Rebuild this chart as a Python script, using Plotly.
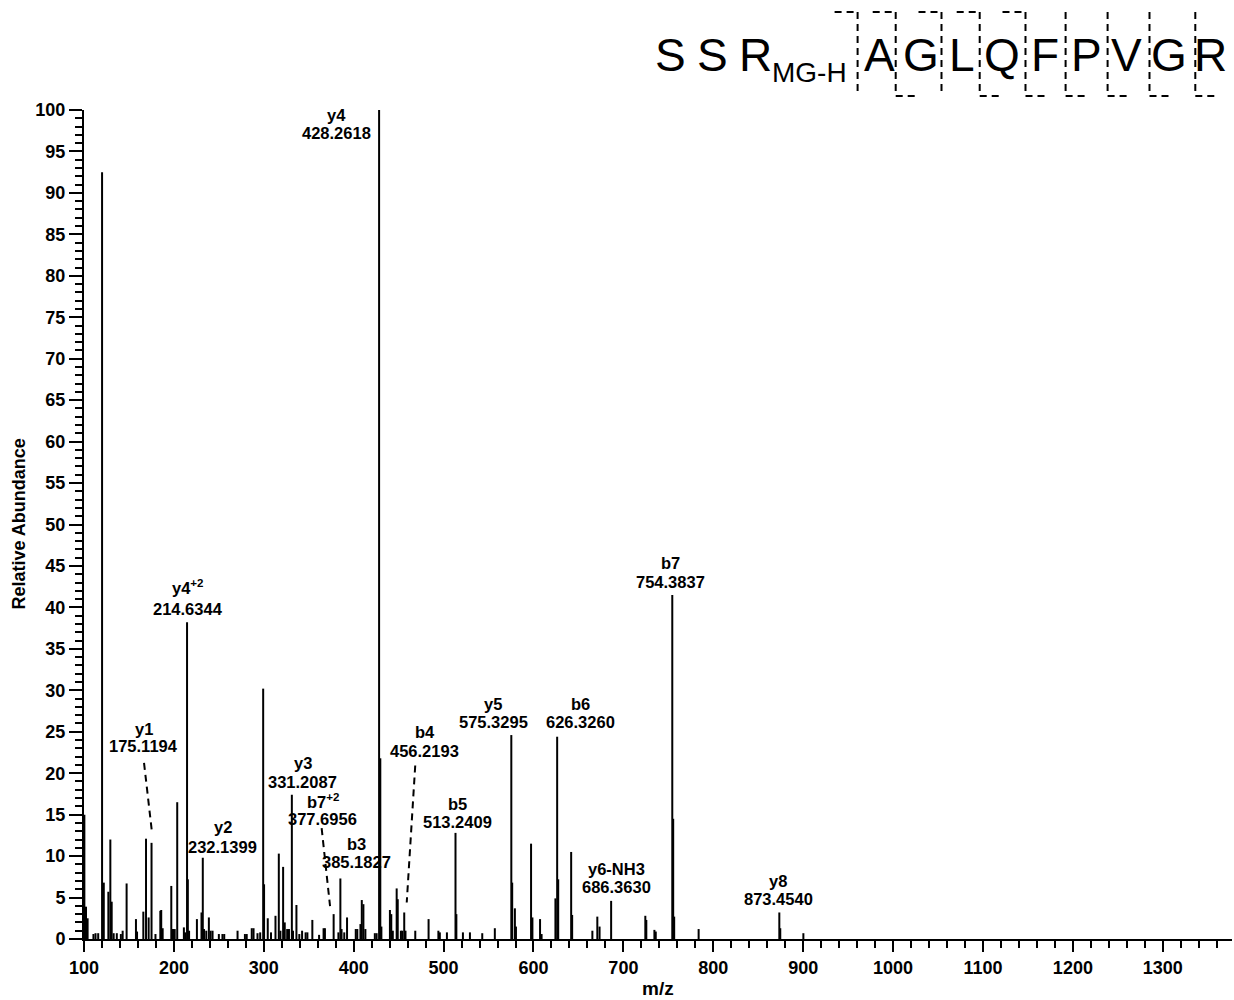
import plotly.graph_objects as go

# ---------------- data ----------------
mz = [100.4, 102.2, 104.0, 110.5, 112.8, 115.8, 120.1, 122.0, 127.1, 129.3, 130.8, 133.0, 136.5,
      141.0, 143.0, 147.4, 157.8, 159.0, 166.0, 169.0, 171.9, 175.1194, 179.5, 184.9, 185.9, 187.5,
      197.1, 199.0, 200.9, 203.7, 211.1, 212.5, 214.6344, 215.5, 216.9, 225.6, 230.7, 232.1399,
      233.5, 236.0, 238.9, 240.8, 243.0, 250.0, 254.0, 256.0, 270.8, 279.0, 281.0, 286.6, 288.6,
      293.0, 296.0, 299.3, 300.3, 304.4, 308.0, 313.0, 316.7, 318.5, 321.5, 323.3, 326.0, 328.0,
      331.2087, 332.5, 336.3, 339.5, 342.6, 346.5, 348.5, 354.0, 361.5, 366.5, 368.0, 377.6956,
      383.0, 385.1827, 386.5, 389.5, 392.6, 402.3, 404.0, 407.5, 409.0, 410.8, 413.0, 423.5, 425.5,
      428.2618, 429.6, 430.8, 440.3, 441.8, 443.5, 447.8, 449.0, 452.5, 454.0, 456.2193, 457.6,
      468.5, 483.3, 494.2, 495.8, 503.7, 513.2409, 514.2, 521.5, 529.3, 543.0, 557.0, 575.3295,
      576.3, 579.3, 580.5, 597.3, 598.8, 607.3, 609.0, 624.4, 626.3260, 627.5, 641.9, 643.0,
      665.5, 671.0, 673.5, 686.3630, 724.4, 725.5, 734.5, 736.0, 754.3837, 755.4, 756.5, 783.7,
      873.4540, 874.5, 900.2]
intensity = [15.0, 3.9, 2.5, 0.6, 0.7, 0.7, 92.5, 6.8, 5.7, 12.0, 4.5, 0.7, 0.7,
             0.6, 1.0, 6.7, 2.4, 0.9, 3.3, 12.1, 2.6, 11.6, 0.6, 3.4, 3.5, 1.3,
             6.4, 1.2, 1.2, 16.5, 1.4, 0.8, 38.2, 7.2, 1.0, 2.4, 3.2, 9.8,
             1.2, 1.0, 2.6, 1.0, 1.0, 0.6, 0.6, 0.6, 1.0, 0.6, 0.6, 1.3, 1.3,
             0.7, 0.8, 30.2, 6.6, 2.5, 0.8, 2.8, 10.3, 1.0, 8.7, 2.0, 1.2, 1.2,
             17.4, 1.0, 4.1, 0.6, 1.0, 0.8, 0.8, 2.3, 0.5, 1.3, 1.3, 3.0,
             0.8, 7.3, 1.2, 0.8, 2.6, 1.2, 1.2, 1.8, 4.7, 4.2, 1.2, 0.7, 0.7,
             100.0, 21.8, 1.5, 3.5, 3.0, 1.0, 6.1, 4.8, 1.0, 1.0, 3.2, 1.0,
             1.0, 2.4, 1.0, 0.8, 0.8, 12.8, 3.0, 0.8, 0.8, 0.7, 1.3, 24.6,
             6.8, 3.7, 1.5, 11.5, 2.6, 2.4, 0.6, 4.9, 24.4, 7.2, 10.5, 2.9,
             1.0, 2.7, 1.5, 4.6, 2.8, 2.3, 1.1, 0.9, 41.5, 14.5, 2.7, 1.2,
             3.2, 1.3, 0.7]

ion_names = ["y1", "y4<sup>+2</sup>", "y2", "y3", "b7<sup>+2</sup>", "b3", "y4", "b4",
             "b5", "y5", "b6", "y6-NH3", "b7", "y8"]
ion_mz = [175.1194, 214.6344, 232.1399, 331.2087, 377.6956, 385.1827, 428.2618, 456.2193,
          513.2409, 575.3295, 626.3260, 686.3630, 754.3837, 873.4540]
ion_mz_text = ["175.1194", "214.6344", "232.1399", "331.2087", "377.6956", "385.1827",
               "428.2618", "456.2193", "513.2409", "575.3295", "626.3260", "686.3630",
               "754.3837", "873.4540"]

seq_plain = ["S", "S", "R"]
seq_mod = "MG-H"
seq_boxed = ["A", "G", "L", "Q", "F", "P", "V", "G", "R"]
b_sites = [0, 1, 2, 3, 4]          # boundary index carrying a b-ion bracket (top)
y_sites = [1, 3, 4, 5, 6, 7, 8]    # boundary index carrying a y-ion bracket (bottom)

x_ticks = list(range(100, 1301, 100))
y_ticks = list(range(0, 101, 5))

# ---------------- layout constants ----------------
W, H = 1234, 1000
ML, MR, MT, MB = 84, 2, 110, 61
PW, PH = W - ML - MR, H - MT - MB
XR = [100, 1377]
YR = [0, 100]
sx = PW / (XR[1] - XR[0])
sy = PH / (YR[1] - YR[0])
FONT = "Liberation Sans, Arial, Helvetica, sans-serif"

def paper_x(px):
    return (px - ML) / PW

def paper_y(py):
    return (H - MB - py) / PH

# label offsets in px relative to peak top: (dx, dy_name, dy_mass, leader)
label_pos = {
    "y1": (-8, -114, -97, (-7.5, -80, 0.5, -10)),
    "y4<sup>+2</sup>": (1, -35, -13, None),
    "y2": (20, -31, -11, None),
    "y3": (11, -32, -13, None),
    "b7<sup>+2</sup>": (-11, -113, -95, (-12, -86, -3.6, -8)),
    "b3": (16, -34, -16, None),
    "y4": (-43, 5, 23, None),
    "b4": (20.5, -180, -161.5, (11, -147, 2.5, -10)),
    "b5": (2, -29, -11, None),
    "y5": (-18, -31, -13, None),
    "b6": (23, -32.5, -14.5, None),
    "y6-NH3": (5, -32, -13.5, None),
    "b7": (-2, -32, -13, None),
    "y8": (-1, -31.5, -13.5, None),
}

# ---------------- figure ----------------
xs, ys = [], []
for m, v in zip(mz, intensity):
    xs += [m, m, None]
    ys += [0, v, None]

fig = go.Figure()
fig.add_trace(go.Scatter(x=xs, y=ys, mode="lines",
                         line=dict(color="black", width=2), hoverinfo="skip",
                         showlegend=False))

annotations = []
shapes = []
lab_font = dict(family=FONT, size=16.5, color="black", weight="bold")
for name, m, mt in zip(ion_names, ion_mz, ion_mz_text):
    idx = min(range(len(mz)), key=lambda i: abs(mz[i] - m))
    v = intensity[idx]
    dx, dyn, dym, lead = label_pos[name]
    annotations.append(dict(x=m, y=v, xref="x", yref="y", text=name, showarrow=False,
                            xanchor="center", yanchor="middle", xshift=dx, yshift=-dyn,
                            font=lab_font))
    annotations.append(dict(x=m, y=v, xref="x", yref="y", text=mt, showarrow=False,
                            xanchor="center", yanchor="middle", xshift=dx, yshift=-dym,
                            font=lab_font))
    if lead:
        ax0, ay0, ax1, ay1 = lead
        shapes.append(dict(type="line", xref="x", yref="y",
                           x0=m + ax0 / sx, y0=v - ay0 / sy,
                           x1=m + ax1 / sx, y1=v - ay1 / sy,
                           line=dict(color="black", width=2, dash="7px,5px")))

# axis titles
annotations.append(dict(x=paper_x(18), y=0.5, xref="paper", yref="paper",
                        text="Relative Abundance", textangle=-90, showarrow=False,
                        xanchor="center", yanchor="middle",
                        font=dict(family=FONT, size=18, color="black", weight="bold")))
annotations.append(dict(x=0.5, y=paper_y(988), xref="paper", yref="paper",
                        text="m/z", showarrow=False, xanchor="center", yanchor="middle",
                        font=dict(family=FONT, size=19, color="black", weight="bold")))

# peptide header
seq_font = dict(family=FONT, size=46, color="black")
plain_x = [670.5, 712.5, 755]
for ch, px in zip(seq_plain, plain_x):
    annotations.append(dict(x=paper_x(px), y=paper_y(55), xref="paper", yref="paper",
                            text=ch, showarrow=False, xanchor="center", yanchor="middle",
                            font=seq_font))
annotations.append(dict(x=paper_x(809), y=paper_y(73), xref="paper", yref="paper",
                        text=seq_mod, showarrow=False, xanchor="center", yanchor="middle",
                        font=dict(family=FONT, size=28, color="black")))
boxed_x = [879.5, 920.5, 962, 1001.5, 1045, 1086.5, 1126.6, 1168.6, 1210.6]
for ch, px in zip(seq_boxed, boxed_x):
    annotations.append(dict(x=paper_x(px), y=paper_y(55), xref="paper", yref="paper",
                            text=ch, showarrow=False, xanchor="center", yanchor="middle",
                            font=seq_font))

bounds = [857.6, 895.7, 941.5, 979.7, 1025.5, 1065.6, 1107.6, 1149.5, 1195.3]
top_y, bot_y, arm = 12, 96, 23
dash_line = dict(color="black", width=2, dash="7px,5px")
for bx in bounds:
    shapes.append(dict(type="line", xref="paper", yref="paper",
                       x0=paper_x(bx), x1=paper_x(bx), y0=paper_y(top_y), y1=paper_y(bot_y),
                       line=dash_line))
for i in b_sites:
    bx = bounds[i]
    shapes.append(dict(type="line", xref="paper", yref="paper",
                       x0=paper_x(bx - arm), x1=paper_x(bx), y0=paper_y(top_y), y1=paper_y(top_y),
                       line=dash_line))
for i in y_sites:
    bx = bounds[i]
    shapes.append(dict(type="line", xref="paper", yref="paper",
                       x0=paper_x(bx), x1=paper_x(bx + arm), y0=paper_y(bot_y), y1=paper_y(bot_y),
                       line=dash_line))

tick_font = dict(family=FONT, size=18, color="black", weight="bold")
fig.update_layout(
    width=W, height=H,
    margin=dict(l=ML, r=MR, t=MT, b=MB, pad=0),
    paper_bgcolor="white", plot_bgcolor="white",
    showlegend=False,
    annotations=annotations, shapes=shapes,
    xaxis=dict(range=XR, showgrid=False, zeroline=False, showline=True,
               linecolor="black", linewidth=2, ticks="outside", ticklen=11, tickwidth=2,
               tickcolor="black", tickvals=x_ticks, ticktext=[str(t) for t in x_ticks],
               tickfont=tick_font,
               minor=dict(dtick=20, tick0=100, ticks="outside", ticklen=7, tickwidth=2,
                          tickcolor="black", showgrid=False)),
    yaxis=dict(range=YR, showgrid=False, zeroline=False, showline=True,
               linecolor="black", linewidth=2, ticks="outside", ticklen=13, tickwidth=2,
               tickcolor="black", tickvals=y_ticks, ticktext=[str(t) for t in y_ticks],
               tickfont=tick_font,
               minor=dict(dtick=1, tick0=0, ticks="outside", ticklen=7, tickwidth=1.5,
                          tickcolor="black", showgrid=False)),
)

fig.write_html("out.html")
